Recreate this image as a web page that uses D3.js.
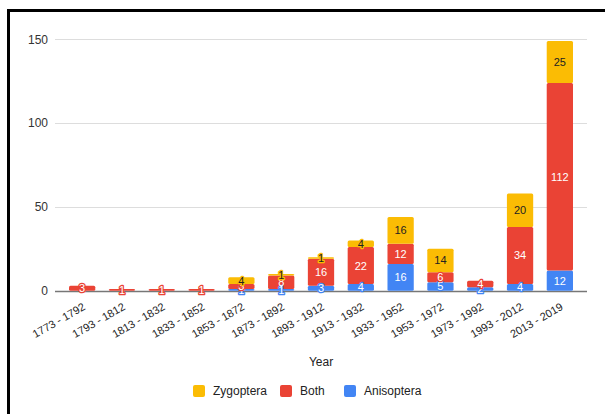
<!DOCTYPE html>
<html>
<head>
<meta charset="utf-8">
<script src="https://cdn.jsdelivr.net/npm/d3@7"></script>
<style>
  html, body { margin: 0; padding: 0; background: #fff; }
  svg { display: block; font-family: Arial, "Liberation Sans", sans-serif; }
</style>
</head>
<body>
<svg id="chart" width="605" height="414"></svg>
<script>
// Twenty-year periods of species descriptions
const periods = ["1773 - 1792", "1793 - 1812", "1813 - 1832", "1833 - 1852", "1853 - 1872",
  "1873 - 1892", "1893 - 1912", "1913 - 1932", "1933 - 1952", "1953 - 1972",
  "1973 - 1992", "1993 - 2012", "2013 - 2019"];
const anisoptera = [0, 0, 0, 0, 1, 1, 3, 4, 16, 5, 2, 4, 12];
const both       = [3, 1, 1, 1, 3, 8, 16, 22, 12, 6, 4, 34, 112];
const zygoptera  = [0, 0, 0, 0, 4, 1, 1, 4, 16, 14, 0, 20, 25];
const yTicks = [0, 50, 100, 150];

const seriesNames = ["Anisoptera", "Both", "Zygoptera"];
const colors = { Anisoptera: "#4285F4", Both: "#EA4335", Zygoptera: "#FBBC04" };
const labelInk = { Anisoptera: "#fff", Both: "#fff", Zygoptera: "#222" };

const rows = periods.map((p, i) => ({
  period: p, Anisoptera: anisoptera[i], Both: both[i], Zygoptera: zygoptera[i]
}));

const svg = d3.select("#chart");

// Frame
svg.append("path")
  .attr("d", "M8.5,420 L8.5,10.5 L610,10.5")
  .attr("fill", "none").attr("stroke", "#000").attr("stroke-width", 3);

const x = d3.scaleBand().domain(periods).range([69, 573]).paddingInner(0.34).paddingOuter(0);
const y = d3.scaleLinear().domain([0, 150]).range([290.7, 39.3]);
const gridLeft = 55, gridRight = 587;

// Gridlines and y labels
const yAxis = svg.append("g");
yAxis.selectAll("line").data(yTicks).join("line")
  .attr("x1", gridLeft).attr("x2", gridRight)
  .attr("y1", d => Math.round(y(d)) + 0.5).attr("y2", d => Math.round(y(d)) + 0.5)
  .attr("stroke", d => d === 0 ? "#777" : "#ddd").attr("stroke-width", d => d === 0 ? 1.5 : 1);
yAxis.selectAll("text").data(yTicks).join("text")
  .attr("x", 48).attr("y", d => y(d)).attr("dy", "0.35em")
  .attr("text-anchor", "end").attr("font-size", 12).attr("fill", "#333")
  .text(d => d);

// Stacked bars
const stacked = d3.stack().keys(seriesNames)(rows);
const layers = svg.append("g").selectAll("g").data(stacked).join("g")
  .attr("fill", s => colors[s.key]);
layers.selectAll("rect").data(s => s.map(d => ({ key: s.key, d })))
  .join("rect")
  .filter(o => o.d[1] - o.d[0] > 0)
  .attr("x", o => x(o.d.data.period))
  .attr("width", x.bandwidth())
  .attr("y", o => y(o.d[1]))
  .attr("height", o => y(o.d[0]) - y(o.d[1]))
  .attr("rx", 1.5);

// Value labels centred in each segment
const labels = svg.append("g");
stacked.forEach(s => {
  s.forEach(d => {
    const v = d[1] - d[0];
    if (v <= 0) return;
    const cx = x(d.data.period) + x.bandwidth() / 2;
    const cy = (y(d[0]) + y(d[1])) / 2;
    const t = labels.append("text")
      .attr("x", cx).attr("y", cy).attr("dy", "0.36em")
      .attr("text-anchor", "middle").attr("font-size", 11)
      .attr("fill", labelInk[s.key])
      .text(v);
    if (y(d[0]) - y(d[1]) < 12) {
      t.attr("stroke", colors[s.key]).attr("stroke-width", 2.5)
        .attr("paint-order", "stroke").attr("stroke-linejoin", "round");
    }
  });
});

// Period labels, slanted
svg.append("g").selectAll("text").data(periods).join("text")
  .attr("transform", p => `translate(${x(p) + x.bandwidth() / 2 + 4},${309}) rotate(-30)`)
  .attr("text-anchor", "end").attr("font-size", 11).attr("fill", "#222")
  .text(p => p);

// Axis title
svg.append("text")
  .attr("x", (gridLeft + gridRight) / 2).attr("y", 362).attr("dy", "0.35em")
  .attr("text-anchor", "middle").attr("font-size", 12).attr("fill", "#222")
  .text("Year");

// Legend
const legendItems = [
  { key: "Zygoptera", x: 193 },
  { key: "Both", x: 280 },
  { key: "Anisoptera", x: 344 }
];
const legend = svg.append("g").selectAll("g").data(legendItems).join("g")
  .attr("transform", d => `translate(${d.x},385)`);
legend.append("rect").attr("width", 12).attr("height", 12).attr("rx", 2)
  .attr("fill", d => colors[d.key]);
legend.append("text").attr("x", 20).attr("y", 6).attr("dy", "0.35em")
  .attr("font-size", 12).attr("fill", "#222").text(d => d.key);
</script>
</body>
</html>
